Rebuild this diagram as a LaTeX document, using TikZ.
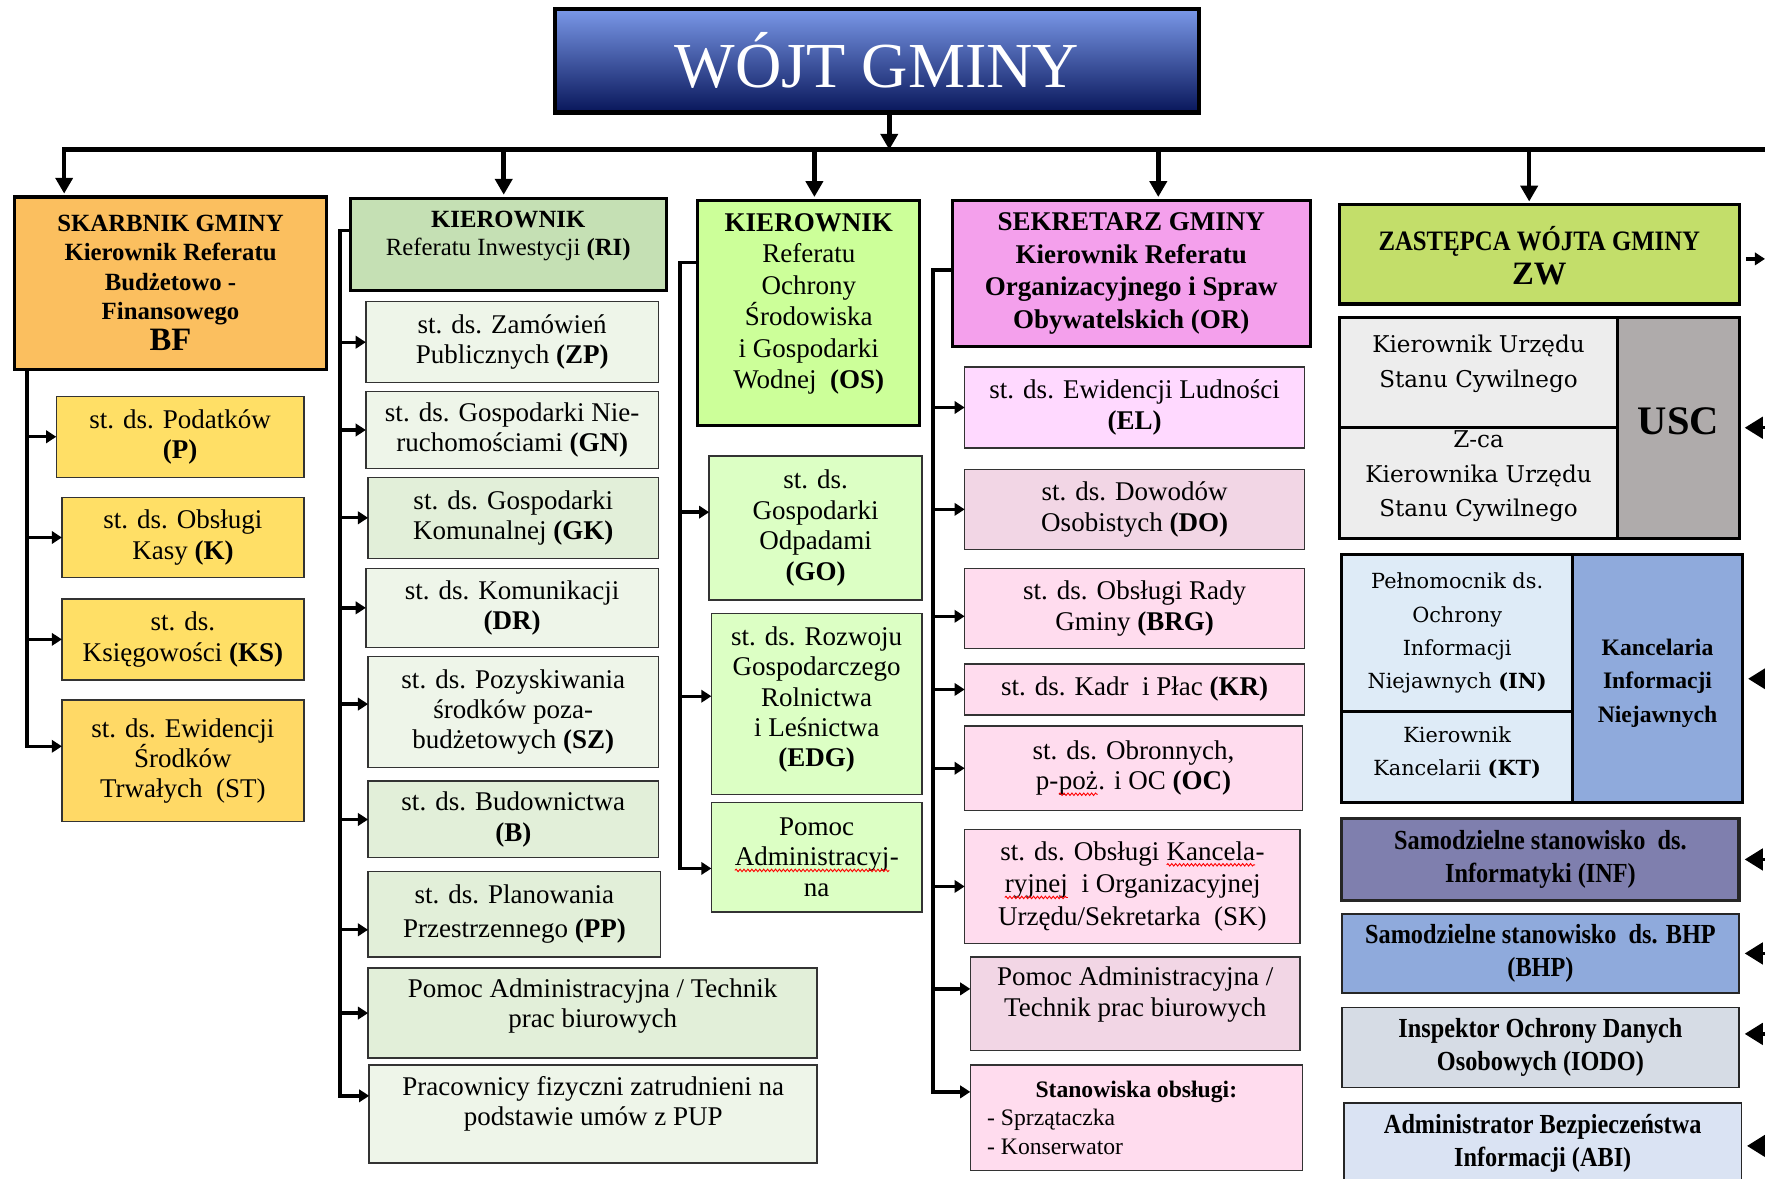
\documentclass[tikz,border=0pt]{standalone}
\usepackage{fontspec}
\setmainfont{Liberation Serif}
\newfontfamily\uscfont{DejaVu Serif}
\newfontfamily\condfont{Liberation Serif}[FakeStretch=0.88]
\usetikzlibrary{arrows.meta,decorations.pathmorphing}

\definecolor{wtop}{HTML}{7A98E8}
\definecolor{wmid}{HTML}{2A40A8}
\definecolor{wbot}{HTML}{08165A}
\definecolor{cBF}{HTML}{FBBF5F}
\definecolor{cP}{HTML}{FFDF66}
\definecolor{cST}{HTML}{FFD966}
\definecolor{cRI}{HTML}{C5E0B4}
\definecolor{cRa}{HTML}{EEF5E9}
\definecolor{cRb}{HTML}{E2EFD9}
\definecolor{cOS}{HTML}{CCFF99}
\definecolor{cOa}{HTML}{DCFFC4}
\definecolor{cOR}{HTML}{F4A0EC}
\definecolor{cEL}{HTML}{FFD9FF}
\definecolor{cDO}{HTML}{F2D6E5}
\definecolor{cPk}{HTML}{FFDCEE}
\definecolor{cZW}{HTML}{C3DE6A}
\definecolor{cUa}{HTML}{EDEDED}
\definecolor{cUb}{HTML}{AFABAB}
\definecolor{cKa}{HTML}{DEEBF7}
\definecolor{cKb}{HTML}{8FAADC}
\definecolor{cINF}{HTML}{7F7FAE}
\definecolor{cIO}{HTML}{D6DCE5}
\definecolor{cABI}{HTML}{DAE3F3}

\newcommand\Txt[2]{\makebox[0pt]{\raisebox{#1}[\height][\depth]{\parbox{560pt}{\centering #2}}}}
\newcommand\mkbox[7]{\node[#1, minimum width={\the\numexpr#5-#3\relax pt}, minimum height={\the\numexpr#6-#4\relax pt}] (#2) at (#3,#4) {#7};}
\newcommand\sq[1]{\tikz[baseline=(sqw.base)]{\node[inner sep=0pt,outer sep=0pt,anchor=base,draw=none,fill=none,minimum width=0pt,minimum height=0pt](sqw) at (0,0){#1};\draw[red,line width=0.8pt,decorate,decoration={snake,amplitude=1.1pt,segment length=3.5pt}]([yshift=-4pt]sqw.base west)--([yshift=-4pt]sqw.base east);}}

\tikzset{
  bx/.style={anchor=north west, inner sep=0pt, outer sep=0pt},
  head/.style={bx, draw=black, line width=2.8pt, font=\fontsize{22}{26}\selectfont\bfseries},
  sub/.style={bx, draw=black!80, line width=1.3pt, font=\fontsize{24}{27}\selectfont},
  grp/.style={bx, draw=black, line width=2.6pt},
  rbox/.style={bx, draw=black!85, line width=1.5pt, font=\condfont\fontsize{24.5}{29}\selectfont\bfseries},
  arr/.style={line width=3pt, -{Triangle[length=9pt,width=11pt]}},
  busarr/.style={line width=4pt, -{Triangle[length=14pt,width=15pt]}, shorten >=3pt},
  rarr/.style={line width=3pt, -{Triangle[length=16pt,width=19pt]}},
}

\begin{document}
\begin{tikzpicture}[x=1pt,y=-1pt]
\useasboundingbox (0,0) rectangle (1568,1047);
\fill[white] (0,0) rectangle (1568,1047);

% ---------- top ----------
\node[bx, draw=black, line width=4pt, top color=wtop, middle color=wmid, bottom color=wbot,
      text=white, font=\fontsize{57}{60}\selectfont,
      minimum width=572pt, minimum height=92pt] (wojt) at (493,8) {WÓJT GMINY};

% ---------- heads ----------
\mkbox{head, fill=cBF}{bf}{13}{175}{290}{328}{\Txt{0pt}{SKARBNIK GMINY\\Kierownik Referatu\\Budżetowo -\\Finansowego\\[2pt]{\fontsize{29}{30}\selectfont BF}}}
\mkbox{head, fill=cRI, font=\fontsize{22}{25}\selectfont\bfseries}{ri}{311}{176}{592}{258}{\Txt{7pt}{KIEROWNIK\\\mdseries Referatu Inwestycji \textbf{(RI)}}}
\mkbox{head, fill=cOS, font=\fontsize{24}{28}\selectfont\bfseries}{os}{620}{178}{817}{378}{\Txt{8pt}{KIEROWNIK\\\mdseries Referatu\\Ochrony\\Środowiska\\i Gospodarki\\Wodnej~~\textbf{(OS)}}}
\mkbox{head, fill=cOR, font=\fontsize{24}{29}\selectfont\bfseries}{or}{846}{178}{1164}{308}{\Txt{0pt}{SEKRETARZ GMINY\\Kierownik Referatu\\Organizacyjnego i Spraw\\Obywatelskich (OR)}}
\mkbox{head, fill=cZW}{zw}{1190}{182}{1545}{270}{\Txt{-1pt}{{\condfont\fontsize{25}{29}\selectfont ZASTĘPCA WÓJTA GMINY}\\[4pt]{\fontsize{29}{29}\selectfont ZW}}}

% ---------- BF column ----------
\mkbox{sub, fill=cP}{p}{50}{352}{270}{424}{\Txt{0pt}{st. ds. Podatków\\\textbf{(P)}}}
\mkbox{sub, fill=cP}{k}{55}{442}{270}{513}{\Txt{0pt}{st. ds. Obsługi\\Kasy \textbf{(K)}}}
\mkbox{sub, fill=cP}{ks}{55}{532}{270}{604}{\Txt{0pt}{st. ds.\\Księgowości \textbf{(KS)}}}
\mkbox{sub, fill=cST}{st}{55}{622}{270}{730}{\Txt{0pt}{st. ds. Ewidencji\\Środków\\Trwałych~~(ST)}}

% ---------- RI column ----------
\mkbox{sub, fill=cRa}{zp}{325}{268}{585}{340}{\Txt{0pt}{st. ds. Zamówień\\Publicznych \textbf{(ZP)}}}
\mkbox{sub, fill=cRa}{gn}{325}{348}{585}{416}{\Txt{0pt}{st. ds. Gospodarki Nie-\\ruchomościami \textbf{(GN)}}}
\mkbox{sub, fill=cRb}{gk}{327}{424}{585}{496}{\Txt{0pt}{st. ds. Gospodarki\\Komunalnej \textbf{(GK)}}}
\mkbox{sub, fill=cRa}{dr}{325}{505}{585}{575}{\Txt{0pt}{st. ds. Komunikacji\\\textbf{(DR)}}}
\mkbox{sub, fill=cRa}{sz}{327}{583}{585}{682}{\Txt{0pt}{st. ds. Pozyskiwania\\środków poza-\\budżetowych \textbf{(SZ)}}}
\mkbox{sub, fill=cRb}{b}{327}{694}{585}{762}{\Txt{0pt}{st. ds. Budownictwa\\\textbf{(B)}}}
\mkbox{sub, fill=cRb}{pp}{327}{774}{587}{850}{\Txt{0pt}{st. ds. Planowania\\[4pt]Przestrzennego \textbf{(PP)}}}
\mkbox{sub, fill=cRb}{pa}{327}{860}{726}{940}{\Txt{6pt}{Pomoc Administracyjna / Technik\\prac biurowych}}
\mkbox{sub, fill=cRa}{pf}{328}{946}{726}{1033}{\Txt{9pt}{Pracownicy fizyczni zatrudnieni na\\podstawie umów z PUP}}

% ---------- OS column ----------
\mkbox{sub, fill=cOa}{go}{630}{405}{819}{533}{\Txt{0pt}{st. ds.\\Gospodarki\\Odpadami\\\textbf{(GO)}}}
\mkbox{sub, fill=cOa}{edg}{632}{545}{819}{706}{\Txt{4pt}{st. ds. Rozwoju\\Gospodarczego\\Rolnictwa\\i Leśnictwa\\\textbf{(EDG)}}}
\mkbox{sub, fill=cOa}{pb}{632}{713}{819}{810}{\Txt{0pt}{Pomoc\\\sq{Administracyj}-\\na}}

% ---------- OR column ----------
\mkbox{sub, fill=cEL}{el}{857}{326}{1159}{398}{\Txt{0pt}{st. ds. Ewidencji Ludności\\\textbf{(EL)}}}
\mkbox{sub, fill=cDO}{do}{857}{417}{1159}{488}{\Txt{0pt}{st. ds. Dowodów\\Osobistych \textbf{(DO)}}}
\mkbox{sub, fill=cPk}{brg}{857}{505}{1159}{576}{\Txt{0pt}{st. ds. Obsługi Rady\\Gminy \textbf{(BRG)}}}
\mkbox{sub, fill=cPk}{kr}{857}{590}{1159}{635}{\Txt{0pt}{st. ds. Kadr~~i Płac \textbf{(KR)}}}
\mkbox{sub, fill=cPk}{oc}{857}{645}{1157}{720}{\Txt{0pt}{st. ds. Obronnych,\\p-\sq{poż}. i OC \textbf{(OC)}}}
\mkbox{sub, fill=cPk}{sk}{857}{737}{1155}{838}{\Txt{0pt}{st. ds. Obsługi \sq{Kancela}-\\[2pt]\sq{ryjnej}~~i Organizacyjnej\\[2pt]Urzędu/Sekretarka~~(SK)}}
\mkbox{sub, fill=cDO}{pc}{862}{850}{1155}{933}{\Txt{8pt}{Pomoc Administracyjna /\\Technik prac biurowych}}
\mkbox{sub, fill=cPk, font=\fontsize{21}{25}\selectfont}{so}{862}{946}{1157}{1040}{\makebox[0pt]{\parbox{265pt}{\centering\textbf{Stanowiska obsługi:}\par\raggedright - Sprzątaczka\\- Konserwator}}}

% ---------- right column ----------
\mkbox{grp, fill=cUa, font=\uscfont\fontsize{20.5}{31}\selectfont}{uscA}{1190}{282}{1437}{380}{\Txt{8pt}{Kierownik Urzędu\\Stanu Cywilnego}}
\mkbox{grp, fill=cUa, font=\uscfont\fontsize{20.5}{31}\selectfont}{uscB}{1190}{380}{1437}{478}{\Txt{6pt}{Z-ca\\Kierownika Urzędu\\Stanu Cywilnego}}
\mkbox{grp, fill=cUb, font=\fontsize{36}{38}\selectfont\bfseries}{uscC}{1437}{282}{1545}{478}{\Txt{6pt}{USC}}

\mkbox{grp, fill=cKa, font=\uscfont\fontsize{18.5}{29.5}\selectfont}{kanA}{1192}{493}{1397}{632}{\Txt{0pt}{Pełnomocnik ds.\\Ochrony\\Informacji\\Niejawnych \textbf{(IN)}}}
\mkbox{grp, fill=cKa, font=\uscfont\fontsize{18.5}{29.5}\selectfont}{kanB}{1192}{632}{1397}{713}{\Txt{4pt}{Kierownik\\Kancelarii \textbf{(KT)}}}
\mkbox{grp, fill=cKb, font=\fontsize{21}{29.5}\selectfont\bfseries}{kanC}{1397}{493}{1548}{713}{\Txt{-4pt}{Kancelaria\\Informacji\\Niejawnych}}

\mkbox{rbox, fill=cINF, line width=3pt}{inf}{1192}{727}{1545}{800}{\Txt{0pt}{Samodzielne stanowisko~~ds.\\Informatyki (INF)}}
\mkbox{rbox, fill=cKb}{bhp}{1192}{812}{1545}{882}{\Txt{0pt}{Samodzielne stanowisko~~ds. BHP\\(BHP)}}
\mkbox{rbox, fill=cIO}{iodo}{1192}{895}{1545}{966}{\Txt{0pt}{Inspektor Ochrony Danych\\Osobowych (IODO)}}
\mkbox{rbox, fill=cABI}{abi}{1194}{980}{1547}{1062}{\Txt{5pt}{Administrator Bezpieczeństwa\\Informacji (ABI)}}

% ---------- bus ----------
\coordinate (busL) at (57,133);
\coordinate (busR) at (1568,133);
\coordinate (wout) at ([xshift=11pt]wojt.south);
\coordinate (osin) at ([xshift=5pt]os.north);
\coordinate (orin) at ([xshift=24pt]or.north);
\coordinate (zwin) at ([xshift=-9pt]zw.north);
\coordinate (riin) at ([xshift=-4pt]ri.north);
\draw[busarr, shorten >=0pt] (wout) -- (wout |- busL);
\draw[busarr] (busR) -- (busL) -- (busL |- bf.north);
\draw[busarr] (riin |- busL) -- (riin);
\draw[busarr] (osin |- busL) -- (osin);
\draw[busarr] (orin |- busL) -- (orin);
\draw[busarr] (zwin |- busL) -- (zwin);

% ---------- BF trunk ----------
\coordinate (bfT) at (24,0);
\coordinate (stin) at ([yshift=13pt]st.west);
\draw[arr] (bfT |- bf.south) -- (bfT |- stin) -- (stin);
\foreach \n in {p,k,ks} \draw[arr] (bfT |- \n.west) -- (\n.west);

% ---------- RI trunk ----------
\coordinate (riT) at (302,0);
\coordinate (riout) at ([yshift=-29pt]ri.north west);
\coordinate (pfin) at ([yshift=16pt]pf.west);
\coordinate (ppin) at ([yshift=-14pt]pp.west);
\coordinate (szin) at ([yshift=7pt]sz.west);
\draw[arr] (riout) -- (riT |- riout) -- (riT |- pfin) -- (pfin);
\foreach \n in {zp,gn,gk,dr,b,pa} \draw[arr] (riT |- \n.west) -- (\n.west);
\draw[arr] (riT |- ppin) -- (ppin);
\draw[arr] (riT |- szin) -- (szin);

% ---------- OS trunk ----------
\coordinate (osT) at (604,0);
\coordinate (osout) at ([yshift=-55pt]os.north west);
\coordinate (goin) at ([yshift=14pt]go.west);
\coordinate (edgin) at ([yshift=7pt]edg.west);
\coordinate (pbin) at ([yshift=-10pt]pb.west);
\draw[arr] (osout) -- (osT |- osout) -- (osT |- pbin) -- (pbin);
\draw[arr] (osT |- goin) -- (goin);
\draw[arr] (osT |- edgin) -- (edgin);

% ---------- OR trunk ----------
\coordinate (orT) at (829,0);
\coordinate (orout) at ([yshift=-62pt]or.north west);
\coordinate (soin) at ([yshift=23pt]so.west);
\coordinate (brgin) at ([yshift=-7pt]brg.west);
\coordinate (pcin) at ([yshift=13pt]pc.west);
\draw[arr] (orout) -- (orT |- orout) -- (orT |- soin) -- (soin);
\foreach \n in {el,do,kr,oc,sk} \draw[arr] (orT |- \n.west) -- (\n.west);
\draw[arr] (orT |- brgin) -- (brgin);
\draw[arr] (orT |- pcin) -- (pcin);

% ---------- right side stubs ----------
\coordinate (rE) at (1568,0);
\coordinate (zwout) at ([yshift=-4pt]zw.east);
\coordinate (iodoin) at ([yshift=12pt]iodo.east);
\coordinate (abiin) at ([yshift=-38pt]abi.north east);
\draw[arr, shorten <=6pt] (zwout) -- (rE |- zwout);
\foreach \n in {uscC,kanC,inf,bhp} \draw[rarr, shorten >=5pt] (rE |- \n.east) -- (\n.east);
\draw[rarr, shorten >=5pt] (rE |- iodoin) -- (iodoin);
\draw[rarr, shorten >=5pt] (rE |- abiin) -- (abiin);
\end{tikzpicture}
\end{document}
